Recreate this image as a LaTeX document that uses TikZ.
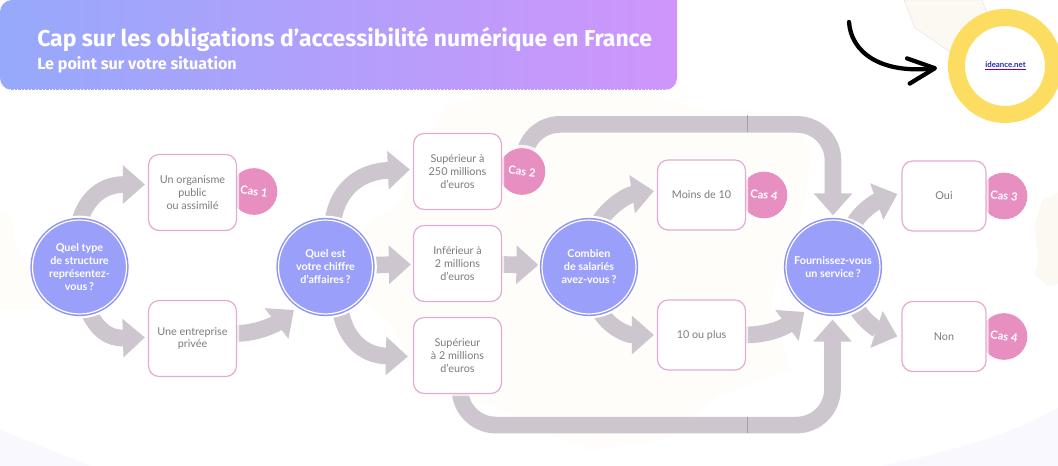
\documentclass[tikz,border=0pt]{standalone}
\usepackage{fontspec}
\setmainfont{Lato}
\newfontfamily\titlefont{Fira Sans}
\usetikzlibrary{arrows.meta,calc}
\definecolor{flowc}{HTML}{CEC6CE}
\definecolor{seamc}{HTML}{A89FA8}
\definecolor{ringc}{HTML}{9095F0}
\definecolor{discc}{HTML}{9A9FFA}
\definecolor{boxc}{HTML}{E6AAD0}
\definecolor{casc}{HTML}{E88FC2}
\definecolor{textc}{HTML}{7C7C7C}
\definecolor{creamc}{HTML}{FEFDF9}
\definecolor{creamd}{HTML}{FCF9F2}
\definecolor{lavc}{HTML}{F9F8FE}
\definecolor{yelc}{HTML}{FCDD62}
\definecolor{gradl}{HTML}{96A9FB}
\definecolor{gradr}{HTML}{CF95FB}
\pgfdeclarelayer{bg}
\pgfdeclarelayer{flows}
\pgfsetlayers{bg,flows,main}
\tikzset{
  x=0.75pt,y=-0.75pt,
  disc/.style={circle,fill=discc,draw=white,line width=0.9pt,minimum size=70.5pt,inner sep=0pt,align=center,
    text=white,font=\fontsize{8.1}{9.75}\selectfont\bfseries,
    preaction={draw=white,line width=6.5pt},preaction={draw=ringc,line width=3.2pt}},
  choice/.style={draw=boxc,fill=white,line width=0.9pt,rounded corners=8pt,minimum width=66pt,align=center,inner sep=0pt,
    text=textc,font=\fontsize{8.1}{9.6}\selectfont,
    preaction={draw=white,line width=4pt,opacity=0.7}},
  tallc/.style={choice,minimum height=57pt},
  lowc/.style={choice,minimum height=52.5pt},
  cas/.style={circle,fill=casc,minimum size=35pt,inner sep=0pt,
    preaction={draw=white,line width=5pt,opacity=0.8}},
  caslabel/.style={text=white,font=\fontsize{8.4}{9}\selectfont\bfseries,rotate=-8,inner sep=0pt},
  flow/.style={draw=flowc,line width=12.5pt,-{Triangle[length=16.5pt,width=28pt]}},
  bigflow/.style={flow,rounded corners=27pt},
  seam/.style={draw=seamc,line width=0.5pt},
}
\begin{document}
\begin{tikzpicture}
\useasboundingbox (0,0) rectangle (1058,466);
\begin{pgfonlayer}{bg}
  \fill[white] (0,0) rectangle (1058,466);
  % faint map
  \fill[lavc] (0,430) -- (90,466) -- (0,466) -- cycle;
  \fill[lavc] (880,466) .. controls (950,452) and (1010,435) .. (1058,408) -- (1058,466) -- cycle;
  \fill[creamc] (432,130) -- (445,105) -- (490,92) -- (570,92) -- (660,96) -- (700,110) -- (790,112)
    -- (812,150) -- (805,200) -- (790,250) -- (770,300) -- (790,370) -- (720,395) -- (660,440)
    -- (590,450) -- (520,420) -- (480,400) -- (420,400) -- (400,340) -- (370,305) -- (345,295)
    -- (350,240) -- (400,200) -- cycle;
  \fill[creamc] (0,212) -- (12,218) -- (14,240) -- (24,258) -- (45,310) -- (0,310) -- cycle;
  \fill[creamd] (1058,193) -- (1042,200) -- (1035,225) -- (1038,262) -- (1035,275) -- (1048,286) -- (1058,284) -- cycle;
  \fill[creamd,draw=creamd!90!black,line width=0.3pt] (904,0) -- (915,28) -- (930,38) -- (950,52) -- (990,20) -- (982,0) -- cycle;
  % header
  \shade[left color=gradl,right color=gradr] (0,0) -- (677,0) -- (677,78) [rounded corners=9pt] -- (677,90) -- (0,90) -- cycle;
  \draw[white,line width=0.6pt,dotted] (0,89.5) -- (668,89.5);
\end{pgfonlayer}

\node[anchor=west,inner sep=0pt,text=white,font=\titlefont\fontsize{17.2}{18}\selectfont\bfseries] (title) at (37,39) {Cap sur les obligations d’accessibilité numérique en France};
\node[anchor=west,inner sep=0pt,text=white,font=\titlefont\fontsize{12.1}{13}\selectfont\bfseries] (sub) at (37,64.5) {Le point sur votre situation};

\node[circle,draw=yelc,line width=12.75pt,fill=white,minimum size=72.75pt,inner sep=0pt] (ring) at (1005,66) {};
\node[inner sep=0pt,font=\fontsize{5.9}{7}\selectfont\bfseries] (link) at (1005.5,66) {\color{violet}\underline{\color[HTML]{2A2AB0}ideance.net}};
\coordinate (curlstart) at (849,22);
\draw[black,line width=3.2pt,line cap=round,-{Straight Barb[length=20pt,width=19pt,round]}]
  (curlstart) .. controls (851,52) and (880,74) .. ($(ring.west)+(-11,2)$);

% cases (behind the boxes)
\node[cas] (cas1) at (254,191.5) {};
\node[caslabel] at (cas1) {Cas 1};
\node[cas] (cas2) at (522,171.5) {};
\node[caslabel] at (cas2) {Cas 2};
\node[cas] (cas4a) at (764,195) {};
\node[caslabel] at (cas4a) {Cas 4};
\node[cas] (cas3) at (1004,196) {};
\node[caslabel] at (cas3) {Cas 3};
\node[cas] (cas4b) at (1004,336.5) {};
\node[caslabel] at (cas4b) {Cas 4};

% questions
\node[disc] (c1) at (79.5,267) {Quel type\\de structure\\représentez-\\vous\,?};
\node[disc] (c2) at (325.5,267) {Quel est\\votre chiffre\\d'affaires\,?};
\node[disc] (c3) at (589,267) {Combien\\de salariés\\avez-vous\,?};
\node[disc] (c4) at (833,267) {Fournissez-vous\\un service\,?};

% choices
\node[tallc] (b1) at (192.5,192.5) {Un organisme\\public\\ou assimilé};
\node[tallc] (b2) at (192.5,338.5) {Une entreprise\\privée};
\node[tallc] (b3) at (457.5,171.5) {Supérieur à\\250 millions\\d'euros};
\node[tallc] (b4) at (457.5,263.5) {Inférieur à\\2 millions\\d'euros};
\node[tallc] (b5) at (457.5,355.5) {Supérieur\\à 2 millions\\d'euros};
\node[lowc] (b6) at (701.5,195) {Moins de 10};
\node[lowc] (b7) at (701.5,335) {10 ou plus};
\node[lowc,minimum width=63pt] (b8) at (944,196) {Oui};
\node[lowc,minimum width=63pt] (b9) at (944,336.5) {Non};

\coordinate (topmid) at ($(c4.north)+(0,-95)$);
\coordinate (botmid) at ($(c4.south)+(-0.5,110.5)$);
\coordinate (seamtopa) at (747,115.5);
\coordinate (seamtopb) at (747,132);
\coordinate (seambota) at (747,417);
\coordinate (seambotb) at (747,433.5);

\begin{pgfonlayer}{flows}
  \draw[flow] ($(c1.north)+(-1,6)$) .. controls ($(c1.north)+(6,-22)$) and ($(b1.west)+(-45,-8)$) .. ($(b1.west)+(-3,-8)$);
  \draw[flow] ($(c1.south)+(9,-3)$) .. controls ($(c1.south)+(18,15)$) and ($(b2.west)+(-40,0)$) .. ($(b2.west)+(-3,-1)$);
  \draw[flow] ($(b2.east)+(-2,-5)$) .. controls ($(b2.east)+(20,-5)$) and ($(c2.west)+(-2,57)$) .. ($(c2.west)+(16,43)$);
  \draw[flow] ($(c2.north)+(7,6)$) .. controls ($(c2.north)+(10,-28)$) and ($(b3.west)+(-55,0)$) .. ($(b3.west)+(-3,-2)$);
  \draw[flow] ($(c2.east)+(0,-2)$) -- ($(b4.west)+(-2,1)$);
  \draw[flow] ($(c2.south)+(15,-4)$) .. controls ($(c2.south)+(20,24)$) and ($(b5.west)+(-50,0)$) .. ($(b5.west)+(-5,1)$);
  \draw[flow] ($(b4.east)+(-2,1)$) -- ($(c3.west)+(-3,-2)$);
  \draw[flow] ($(c3.north)+(8,6)$) .. controls ($(c3.north)+(18,-12)$) and ($(b6.west)+(-30,0)$) .. ($(b6.west)+(-3,-4)$);
  \draw[flow] ($(c3.south)+(11,-3)$) .. controls ($(c3.south)+(21,13)$) and ($(b7.west)+(-30,0)$) .. ($(b7.west)+(-3,0)$);
  \draw[flow] ($(b7.east)+(-2,0)$) .. controls ($(b7.east)+(26,0)$) and ($(c4.west)+(2,58)$) .. ($(c4.west)+(19,45)$);
  \draw[flow] ($(c4.north)+(20,6)$) .. controls ($(c4.north)+(27,-8)$) and ($(b8.west)+(-26,6)$) .. ($(b8.west)+(-4,-2)$);
  \draw[flow] ($(c4.south)+(24,-6)$) .. controls ($(c4.south)+(32,8)$) and ($(b9.west)+(-22,-6)$) .. ($(b9.west)+(-4,0)$);
  \draw[bigflow] ($(cas2.center)+(2,0)$) |- (topmid) -- ($(c4.north)+(0,-4)$);
  \draw[bigflow] ($(b5.center)+(2.5,0)$) |- (botmid) -- ($(c4.south)+(-0.5,5)$);
  \draw[seam] (seamtopa) -- (seamtopb);
  \draw[seam] (seambota) -- (seambotb);
\end{pgfonlayer}
\end{tikzpicture}
\end{document}
